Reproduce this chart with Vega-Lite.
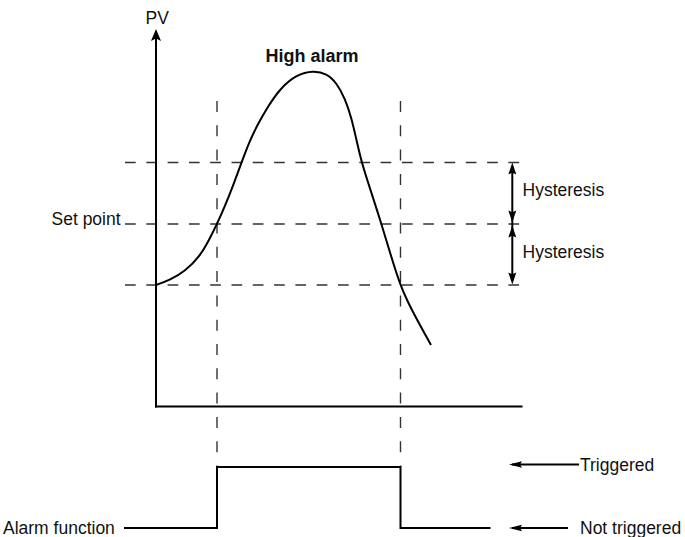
{
  "$schema": "https://vega.github.io/schema/vega-lite/v6.json",
  "width": 685,
  "height": 537,
  "padding": 0,
  "autosize": {"type": "none"},
  "background": "white",
  "config": {"view": {"stroke": null}},
  "datasets": {
    "dashH": [
      {"x": 125, "x2": 520, "y": 162.5},
      {"x": 125, "x2": 520, "y": 224},
      {"x": 125, "x2": 520, "y": 285}
    ],
    "dashV": [
      {"x": 217, "y": 101, "y2": 467},
      {"x": 400.5, "y": 101, "y2": 467}
    ],
    "solid": [
      {"x": 156, "y": 33, "x2": 156, "y2": 407.5},
      {"x": 155, "y": 406.5, "x2": 522.5, "y2": 406.5},
      {"x": 512.3, "y": 166, "x2": 512.3, "y2": 281},
      {"x": 512, "y": 464.5, "x2": 579, "y2": 464.5},
      {"x": 512, "y": 528, "x2": 568, "y2": 528}
    ],
    "step": [
      {"i": 0, "x": 124, "y": 528},
      {"i": 1, "x": 217, "y": 528},
      {"i": 2, "x": 217, "y": 467},
      {"i": 3, "x": 400.5, "y": 467},
      {"i": 4, "x": 400.5, "y": 528},
      {"i": 5, "x": 490.5, "y": 528}
    ],
    "curve": [
      {"x": 156, "y": 285},
      {"x": 170, "y": 280},
      {"x": 185, "y": 271.5},
      {"x": 200, "y": 256},
      {"x": 208.5, "y": 241},
      {"x": 217, "y": 224},
      {"x": 225, "y": 206},
      {"x": 233, "y": 186},
      {"x": 241.5, "y": 162.5},
      {"x": 250, "y": 140},
      {"x": 258, "y": 124},
      {"x": 266.7, "y": 108.5},
      {"x": 280, "y": 88.5},
      {"x": 296.7, "y": 74.5},
      {"x": 313.3, "y": 70.7},
      {"x": 326.7, "y": 73.5},
      {"x": 336.7, "y": 83},
      {"x": 345, "y": 98.5},
      {"x": 351.5, "y": 118},
      {"x": 356.7, "y": 141},
      {"x": 361.7, "y": 163},
      {"x": 370.5, "y": 190},
      {"x": 381.5, "y": 224},
      {"x": 390.7, "y": 255},
      {"x": 400, "y": 285},
      {"x": 412, "y": 311},
      {"x": 431, "y": 345}
    ],
    "axisArrow": [{"x": 156, "y": 29, "deg": 0}],
    "hystArrows": [
      {"x": 512.3, "y": 162.5, "deg": 0},
      {"x": 512.3, "y": 222.5, "deg": 180},
      {"x": 512.3, "y": 225.5, "deg": 0},
      {"x": 512.3, "y": 284.5, "deg": 180}
    ],
    "sigArrows": [
      {"x": 509, "y": 464.5, "deg": 270},
      {"x": 509, "y": 528, "deg": 270}
    ],
    "labels": [
      {"t": "PV", "x": 145.5, "y": 23.8},
      {"t": "Set point", "x": 51.5, "y": 225.2},
      {"t": "Hysteresis", "x": 522.5, "y": 196.2},
      {"t": "Hysteresis", "x": 522.5, "y": 257.8},
      {"t": "Alarm function", "x": 3, "y": 533.8},
      {"t": "Triggered", "x": 580, "y": 471.2},
      {"t": "Not triggered", "x": 580, "y": 534.2}
    ],
    "title": [
      {"t": "High alarm", "x": 265.5, "y": 61.7}
    ]
  },
  "layer": [
    {
      "data": {"name": "dashH"},
      "mark": {"type": "rule", "stroke": "#333333", "strokeWidth": 1.4, "strokeDash": [10.7, 10.6]},
      "encoding": {
        "x": {"field": "x", "type": "quantitative", "scale": {"domain": [0, 685], "nice": false, "zero": false}, "axis": null},
        "x2": {"field": "x2"},
        "y": {"field": "y", "type": "quantitative", "scale": {"domain": [0, 537], "reverse": true, "nice": false, "zero": false}, "axis": null}
      }
    },
    {
      "data": {"name": "dashV"},
      "mark": {"type": "rule", "stroke": "#333333", "strokeWidth": 1.4, "strokeDash": [11, 13.3]},
      "encoding": {
        "x": {"field": "x", "type": "quantitative", "scale": {"domain": [0, 685], "nice": false, "zero": false}, "axis": null},
        "y": {"field": "y", "type": "quantitative", "scale": {"domain": [0, 537], "reverse": true, "nice": false, "zero": false}, "axis": null},
        "y2": {"field": "y2"}
      }
    },
    {
      "data": {"name": "solid"},
      "mark": {"type": "rule", "stroke": "black", "strokeWidth": 2},
      "encoding": {
        "x": {"field": "x", "type": "quantitative", "scale": {"domain": [0, 685], "nice": false, "zero": false}, "axis": null},
        "x2": {"field": "x2"},
        "y": {"field": "y", "type": "quantitative", "scale": {"domain": [0, 537], "reverse": true, "nice": false, "zero": false}, "axis": null},
        "y2": {"field": "y2"}
      }
    },
    {
      "data": {"name": "step"},
      "mark": {"type": "line", "stroke": "black", "strokeWidth": 2, "strokeJoin": "miter"},
      "encoding": {
        "x": {"field": "x", "type": "quantitative", "scale": {"domain": [0, 685], "nice": false, "zero": false}, "axis": null},
        "y": {"field": "y", "type": "quantitative", "scale": {"domain": [0, 537], "reverse": true, "nice": false, "zero": false}, "axis": null},
        "order": {"field": "i", "type": "quantitative"}
      }
    },
    {
      "data": {"name": "curve"},
      "mark": {"type": "line", "stroke": "black", "strokeWidth": 2, "interpolate": "basis"},
      "encoding": {
        "x": {"field": "x", "type": "quantitative", "scale": {"domain": [0, 685], "nice": false, "zero": false}, "axis": null},
        "y": {"field": "y", "type": "quantitative", "scale": {"domain": [0, 537], "reverse": true, "nice": false, "zero": false}, "axis": null}
      }
    },
    {
      "data": {"name": "axisArrow"},
      "mark": {"type": "point", "shape": "M0,0L0.42,1L0,0.8L-0.42,1Z", "size": 576, "filled": true, "fill": "black", "opacity": 1, "strokeWidth": 0},
      "encoding": {
        "x": {"field": "x", "type": "quantitative", "scale": {"domain": [0, 685], "nice": false, "zero": false}, "axis": null},
        "y": {"field": "y", "type": "quantitative", "scale": {"domain": [0, 537], "reverse": true, "nice": false, "zero": false}, "axis": null},
        "angle": {"field": "deg", "type": "quantitative", "scale": null}
      }
    },
    {
      "data": {"name": "hystArrows"},
      "mark": {"type": "point", "shape": "M0,0L0.33,1L0,0.85L-0.33,1Z", "size": 576, "filled": true, "fill": "black", "opacity": 1, "strokeWidth": 0},
      "encoding": {
        "x": {"field": "x", "type": "quantitative", "scale": {"domain": [0, 685], "nice": false, "zero": false}, "axis": null},
        "y": {"field": "y", "type": "quantitative", "scale": {"domain": [0, 537], "reverse": true, "nice": false, "zero": false}, "axis": null},
        "angle": {"field": "deg", "type": "quantitative", "scale": null}
      }
    },
    {
      "data": {"name": "sigArrows"},
      "mark": {"type": "point", "shape": "M0,0L0.25,1L0,0.85L-0.25,1Z", "size": 676, "filled": true, "fill": "black", "opacity": 1, "strokeWidth": 0},
      "encoding": {
        "x": {"field": "x", "type": "quantitative", "scale": {"domain": [0, 685], "nice": false, "zero": false}, "axis": null},
        "y": {"field": "y", "type": "quantitative", "scale": {"domain": [0, 537], "reverse": true, "nice": false, "zero": false}, "axis": null},
        "angle": {"field": "deg", "type": "quantitative", "scale": null}
      }
    },
    {
      "data": {"name": "labels"},
      "mark": {"type": "text", "align": "left", "baseline": "alphabetic", "font": "Liberation Sans", "fontSize": 17.5, "color": "#111111"},
      "encoding": {
        "x": {"field": "x", "type": "quantitative", "scale": {"domain": [0, 685], "nice": false, "zero": false}, "axis": null},
        "y": {"field": "y", "type": "quantitative", "scale": {"domain": [0, 537], "reverse": true, "nice": false, "zero": false}, "axis": null},
        "text": {"field": "t"}
      }
    },
    {
      "data": {"name": "title"},
      "mark": {"type": "text", "align": "left", "baseline": "alphabetic", "font": "Liberation Sans", "fontSize": 18, "fontWeight": "bold", "color": "#111111"},
      "encoding": {
        "x": {"field": "x", "type": "quantitative", "scale": {"domain": [0, 685], "nice": false, "zero": false}, "axis": null},
        "y": {"field": "y", "type": "quantitative", "scale": {"domain": [0, 537], "reverse": true, "nice": false, "zero": false}, "axis": null},
        "text": {"field": "t"}
      }
    }
  ]
}
